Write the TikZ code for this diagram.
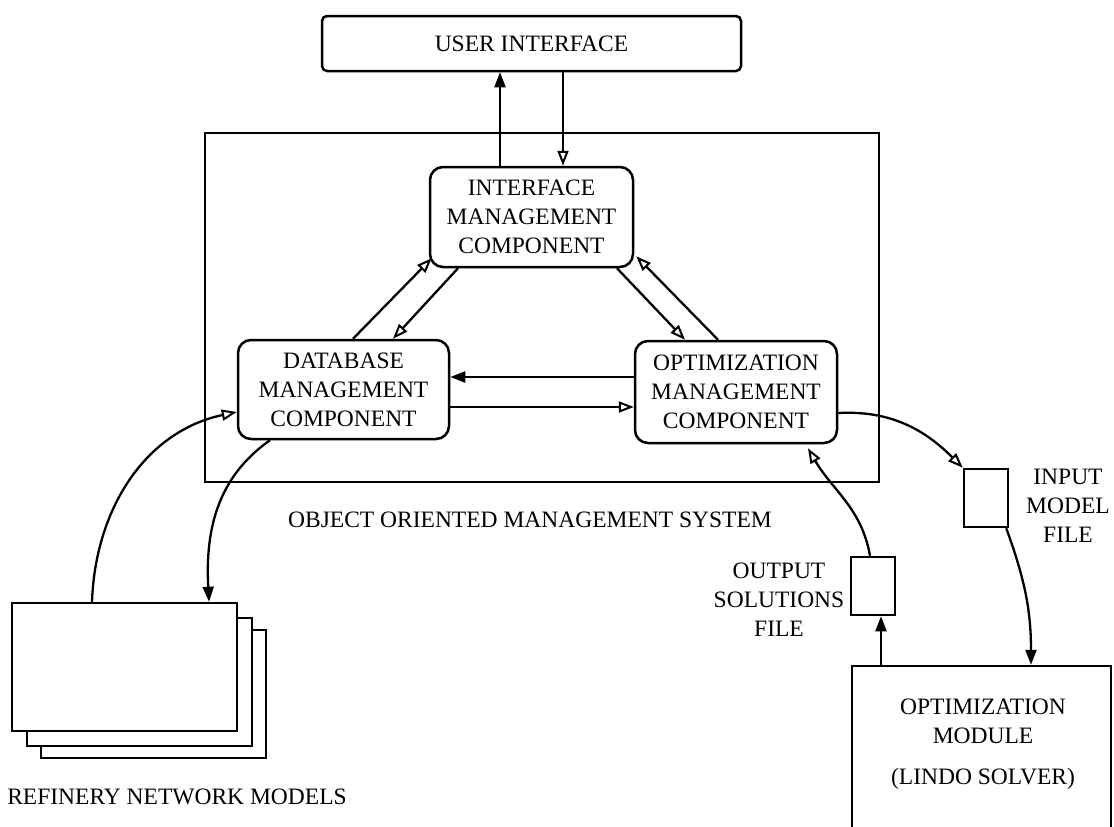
\documentclass[tikz,border=0pt]{standalone}
\usepackage{fontspec}
\setmainfont{Liberation Serif}
\usetikzlibrary{arrows.meta,calc}

\tikzset{
  txt/.style={font=\fontsize{23.5}{29}\selectfont, align=center, inner sep=0pt},
  comp/.style={draw, line width=2.5pt, rounded corners=13pt, minimum width=203pt,
    minimum height=100pt, txt},
  plainbox/.style={draw, line width=2.5pt, fill=white, inner sep=0pt},
  link/.style={line width=2.3pt},
  oarrow/.style={link, -{Triangle[open, length=15pt, width=11pt, line width=2pt]}},
  farrow/.style={link, -{Triangle[length=15pt, width=11pt]}},
}

\begin{document}
\begin{tikzpicture}[x=1pt, y=-1pt]
\useasboundingbox (0,0) rectangle (1114,827);

% user interface and the enclosing management system
\node[plainbox, rounded corners=5pt, minimum width=419pt, minimum height=55pt, txt]
  (ui) at (531.5,43.5) {USER INTERFACE};
\node[plainbox, fill=none, minimum width=674pt, minimum height=349pt]
  (oms) at (542,307.5) {};

% the three management components
\node[comp] (imc) at (531.5,217) {INTERFACE\\MANAGEMENT\\COMPONENT};
\node[comp, minimum width=211pt, minimum height=99pt] (dbc) at (343.5,389.5)
  {DATABASE\\MANAGEMENT\\COMPONENT};
\node[comp, minimum width=202pt, minimum height=102pt] (omc) at (736,392)
  {OPTIMIZATION\\MANAGEMENT\\COMPONENT};

\node[txt] (omslabel) at (530,520) {OBJECT ORIENTED MANAGEMENT SYSTEM};

% stack of refinery network models
\node[plainbox, minimum width=225pt, minimum height=128pt] (stack3) at (153.5,694) {};
\node[plainbox, minimum width=225pt, minimum height=128pt] (stack2) at (139.5,682) {};
\node[plainbox, minimum width=225pt, minimum height=128pt] (stack) at (124.5,667) {};
\node[txt] (stacklabel) at (177,797) {REFINERY NETWORK MODELS};

% model files
\node[plainbox, minimum width=44pt, minimum height=58pt] (infile) at (986,498) {};
\node[txt] (inlabel) at (1068,506) {INPUT\\MODEL\\FILE};
\node[plainbox, minimum width=44pt, minimum height=58pt] (outfile) at (873,586) {};
\node[txt] (outlabel) at (779,600) {OUTPUT\\SOLUTIONS\\FILE};

% solver
\node[plainbox, minimum width=259pt, minimum height=180pt] (solver) at (981.5,756) {};
\node[txt] (solverlabel) at (983,744) {OPTIMIZATION\\MODULE\\[12pt](LINDO SOLVER)};

% user interface <-> interface management
\draw[farrow] ([xshift=-31.5pt]imc.north) -- ([xshift=-31.5pt]ui.south);
\draw[oarrow] ([xshift=31.5pt]ui.south) -- ([xshift=31.5pt]imc.north);

% triangle of components
\draw[oarrow] ([xshift=9.5pt]dbc.north) -- ([shift={(3,-10)}]imc.south west);
\draw[oarrow] ([xshift=-73.5pt]imc.south) -- ([xshift=49.5pt]dbc.north);
\draw[oarrow] ([xshift=85.5pt]imc.south) -- ([xshift=-51pt]omc.north);
\draw[oarrow] ([xshift=-18pt]omc.north) -- ([shift={(2,-12)}]imc.south east);
\draw[farrow] ([yshift=15pt]omc.west) -- ([yshift=15pt]omc.west -| dbc.east);
\draw[oarrow] ([yshift=-15pt]omc.west -| dbc.east) -- ([yshift=-15pt]omc.west);

% database <-> refinery models
\draw[oarrow] ([xshift=-32.5pt]stack.north) to[out=88, in=192] ([yshift=-22.5pt]dbc.west);
\draw[farrow] ([xshift=-73.5pt]dbc.south) to[out=215, in=93] ([xshift=84.5pt]stack.north);

% optimisation management <-> files <-> solver
\draw[oarrow] ([yshift=-21pt]omc.east) to[out=3, in=135] (infile.north west);
\draw[farrow] ([xshift=-3pt]infile.south east) to[out=-70, in=90] ([xshift=49.5pt]solver.north);
\draw[farrow] ([xshift=8pt]outfile.south |- solver.north) -- ([xshift=8pt]outfile.south);
\draw[oarrow] ([xshift=-3pt]outfile.north) to[out=100, in=-60] ([shift={(72,4)}]omc.south);
\end{tikzpicture}
\end{document}
